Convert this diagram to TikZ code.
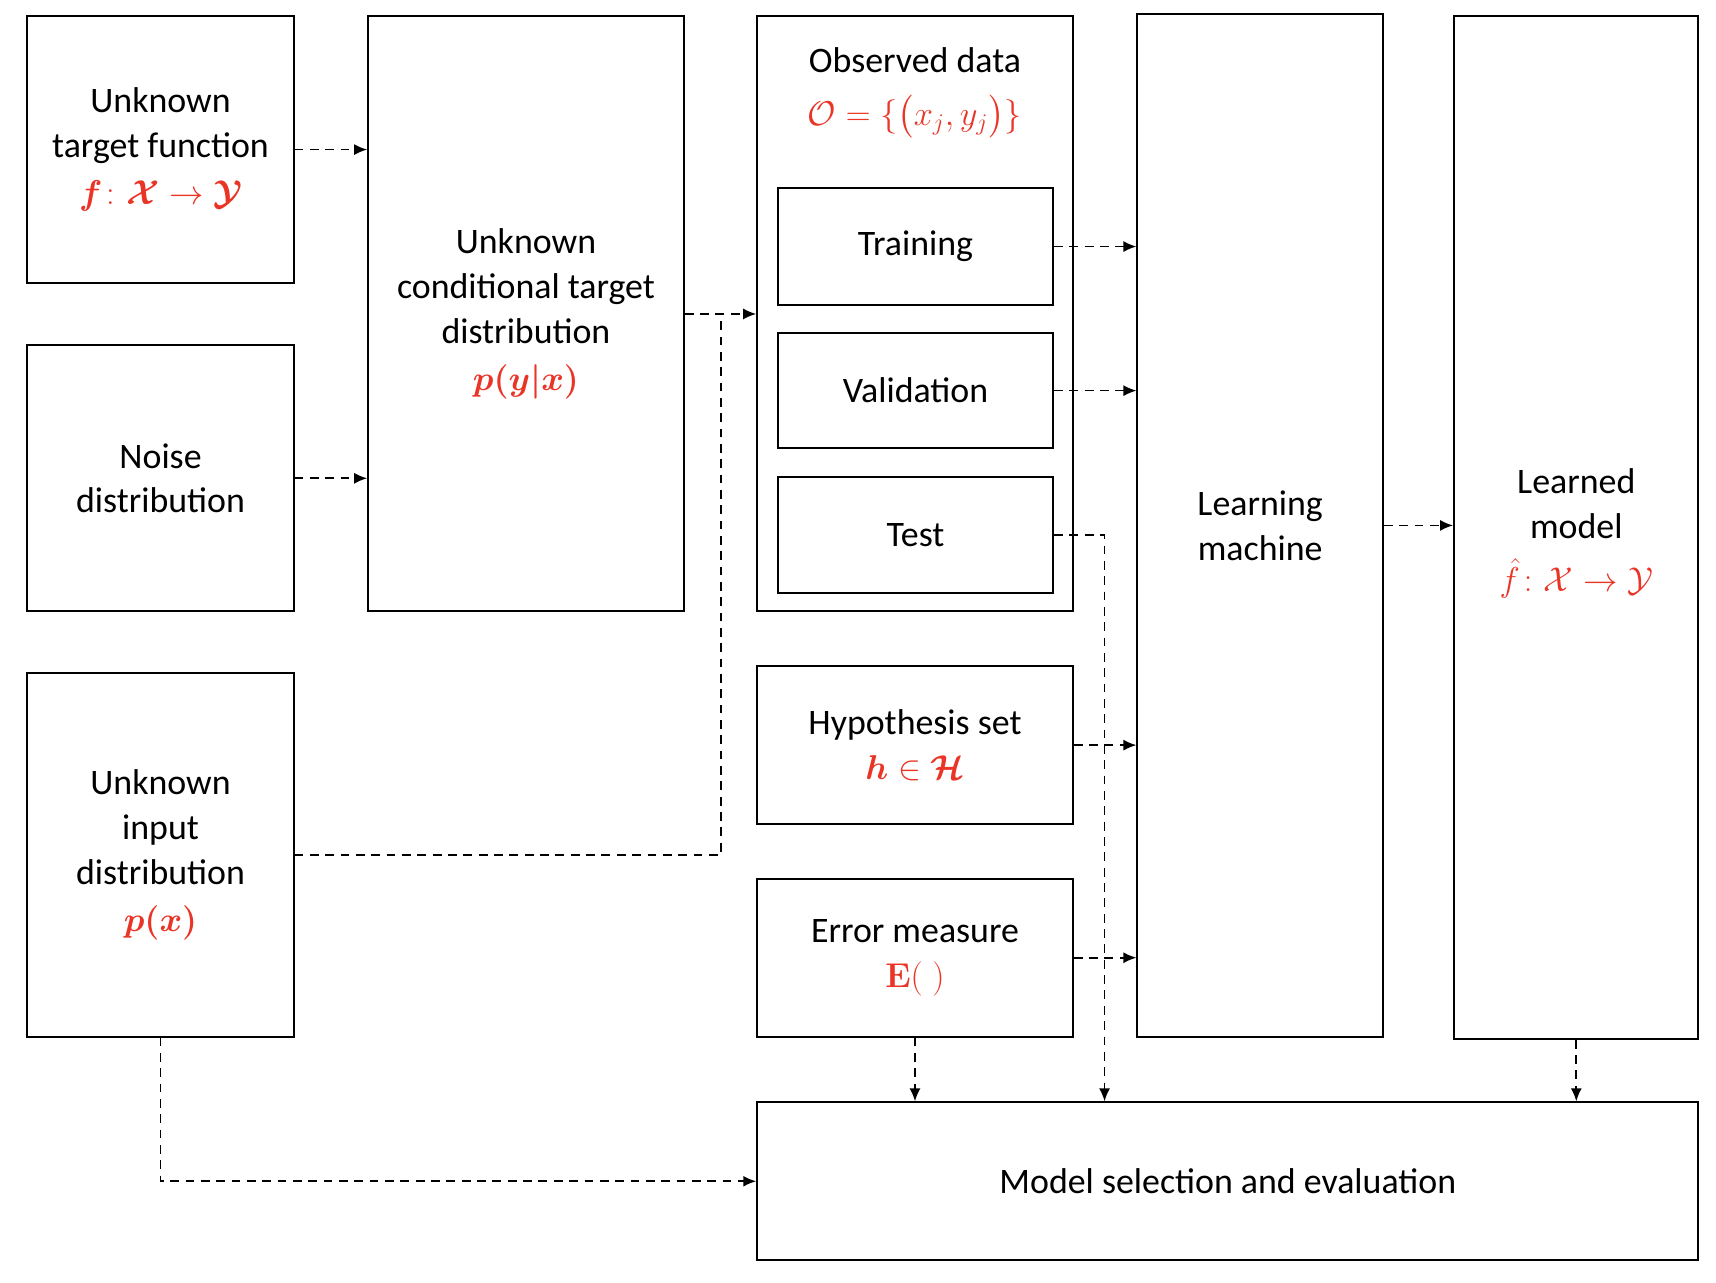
\documentclass[tikz,border=0pt]{standalone}
\usepackage{amsmath,amssymb,bm}
\usepackage[no-math]{fontspec}
\setmainfont{Carlito}
\usetikzlibrary{arrows.meta}
\definecolor{mathRed}{RGB}{233,52,38}
\newcommand{\boxFont}{\fontsize{18}{22.5}\selectfont}
\newcommand{\rd}[1]{\textcolor{mathRed}{#1}}
\tikzset{
  box/.style={draw,line width=1pt,inner sep=0pt,
              align=center,font=\boxFont},
  dline/.style={line width=0.85pt,
                dash pattern=on 4.4pt off 3.3pt},
  arr/.style={dline,-{Latex[length=6.5pt,width=5.5pt]}}
}
\begin{document}
\begin{tikzpicture}[x=0.55pt,y=-0.55pt]

\useasboundingbox (0,0) rectangle (1566,1170);

\node[box,minimum width=133.65pt,minimum height=133.65pt]
     at (146.5,136.5) (tfBox)
     {Unknown\\target function\\[1pt]
      \rd{$\bm{f}\colon\bm{\mathcal{X}}\to\bm{\mathcal{Y}}$}};
\node[box,minimum width=133.65pt,minimum height=133.65pt]
     at (146.5,436.5) (noiseBox)
     {Noise\\distribution};
\node[box,minimum width=133.65pt,minimum height=182.6pt]
     at (146.5,780) (inBox)
     {Unknown\\input\\distribution\\[1pt]
      \rd{$\bm{p(x)}$}};

\node[box,minimum width=158.4pt,minimum height=298.65pt]
     at (480,286.5) (condBox)
     {Unknown\\conditional target\\distribution\\[1pt]
      \rd{$\bm{p(y|x)}$}};

\node[box,minimum width=158.4pt,minimum height=298.65pt]
     at (835,286.5) (obsBox) {};
\node[align=center,font=\boxFont]
     at (835,85) (obsCap)
     {Observed data\\[4pt]
      \rd{$\mathcal{O}=\{\big(x_j,y_j\big)\}$}};
\node[box,minimum width=138.05pt,minimum height=58.3pt]
     at (835.5,225) (trBox) {Training};
\node[box,minimum width=138.05pt,minimum height=57.75pt]
     at (835.5,356.5) (vaBox) {Validation};
\node[box,minimum width=138.05pt,minimum height=58.3pt]
     at (835.5,488) (teBox) {Test};

\node[box,minimum width=158.4pt,minimum height=79.2pt]
     at (835,680) (hsBox)
     {Hypothesis set\\
      \rd{$\bm{h}\in\bm{\mathcal{H}}$}};
\node[box,minimum width=158.4pt,minimum height=79.2pt]
     at (835,874) (errBox)
     {Error measure\\
      \rd{$\mathbf{E}(\;)$}};

\node[box,minimum width=123.2pt,minimum height=513.15pt]
     at (1150,479.5) (lmBox)
     {Learning\\machine};
\node[box,minimum width=122.65pt,minimum height=513.15pt]
     at (1438.5,481.5) (lrnBox) {};
\node[align=center,font=\boxFont]
     at (1438.5,487) (lrnCap)
     {Learned\\model\\[4pt]
      \rd{$\hat{f}\colon\mathcal{X}\to\mathcal{Y}$}};

\node[box,minimum width=472.45pt,minimum height=79.2pt]
     at (1120.5,1078) (msBox)
     {Model selection and evaluation};

\coordinate (joinPt) at (658,286.5);
\coordinate (tapX) at (1008,0);

\draw[arr] (tfBox.east) -- (tfBox.east -| condBox.west);
\draw[arr] (noiseBox.east) -- (noiseBox.east -| condBox.west);
\draw[arr] (condBox.east) -- (obsBox.west);
\draw[dline] (inBox.east) -| (joinPt);

\draw[arr] (trBox.east) -- (trBox.east -| lmBox.west);
\draw[arr] (vaBox.east) -- (vaBox.east -| lmBox.west);
\draw[arr] (teBox.east) -| (tapX |- msBox.north);
\draw[arr] (hsBox.east) -- (hsBox.east -| lmBox.west);
\draw[arr] (errBox.east) -- (errBox.east -| lmBox.west);

\draw[arr] (lmBox.east) -- (lmBox.east -| lrnBox.west);
\draw[arr] (errBox.south) -- (errBox.south |- msBox.north);
\draw[arr] (lrnBox.south) -- (lrnBox.south |- msBox.north);
\draw[arr] (inBox.south) |- (msBox.west);

\end{tikzpicture}
\end{document}
